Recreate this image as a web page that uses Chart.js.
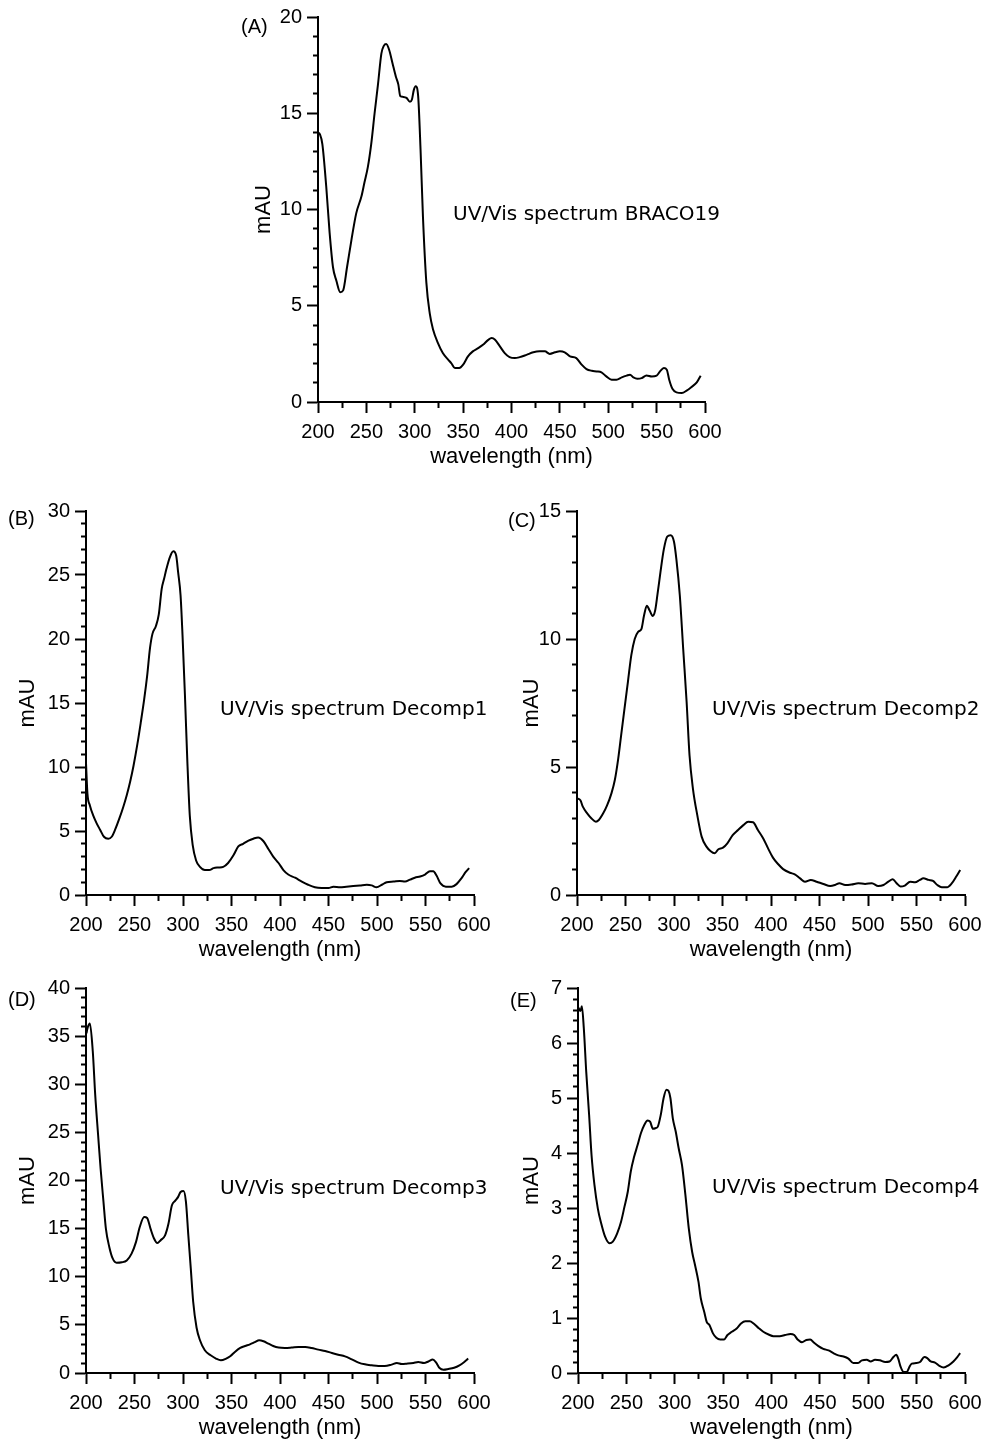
<!DOCTYPE html>
<html>
<head>
<meta charset="utf-8">
<script src="https://cdn.jsdelivr.net/npm/chart.js@4.4.1/dist/chart.umd.min.js"></script>
<style>
  body { margin: 0; width: 984px; height: 1441px; overflow: hidden; background: #fff; position: relative; }
  canvas { position: absolute; }
  .tag { position: absolute; font: 20px/24px "Liberation Sans", Arial, sans-serif; color: #000; }
  .note { position: absolute; font: 20px/24px "DejaVu Sans", sans-serif; color: #000; white-space: nowrap; }
</style>
</head>
<body>
<script>
// wavelength (nm) / absorbance (mAU)
var wlA = [200,202,204.5,208.5,212,215.5,219,223,226,230,234.5,239.5,245,248,251.5,255,258.5,262,265.5,268,270.5,273.5,277,280.5,283,285,288,291.5,295,297,299,301,303.5,306,308.5,312,315.5,319,324,329,334.5,338,341.5,346,350,355,360,365.5,370.5,376,379.5,383,388,393,398,403.5,408.5,415.5,422.5,429,434.5,439.5,445,450,455,460.5,467,472.5,477.5,483,488,493,498,503.5,508.5,514,519,522.5,526,530,534.5,539.5,545,550,553.5,557.5,560.5,563,566.5,570.5,576,581,586,591.5,595.5];
var mauA = [14.0,13.9,13.4,11.2,8.8,7.0,6.3,5.7,5.8,7.0,8.4,9.8,10.7,11.4,12.2,13.4,15.0,16.5,18.1,18.5,18.6,18.3,17.6,16.9,16.5,15.9,15.85,15.8,15.6,15.7,16.2,16.4,15.9,13.1,9.6,6.2,4.6,3.75,3.06,2.54,2.2,2.0,1.76,1.76,1.94,2.37,2.63,2.8,2.97,3.23,3.32,3.23,2.89,2.54,2.33,2.28,2.33,2.45,2.58,2.63,2.63,2.5,2.58,2.63,2.58,2.37,2.28,1.94,1.71,1.62,1.59,1.54,1.33,1.16,1.16,1.28,1.37,1.42,1.28,1.21,1.24,1.38,1.33,1.37,1.59,1.76,1.68,1.16,0.67,0.5,0.47,0.59,0.78,1.02,1.37];

var wlB = [200,201.5,204,207.5,211,214.5,218.5,223,226.5,230,234.5,238.5,242,245.5,249,253,256.5,260,263,266,268.5,272,275,278,280.5,283,286.5,290,293,295,297.5,299.5,302,304.5,307,310,313.5,317.5,322.5,327,331.5,336.5,341.5,346.5,352,357,362,367.5,372.5,377.5,383,388,393,398.5,403.5,408.5,415.5,422.5,429,436,443,450,455,462,468.5,475.5,482.5,489.5,494.5,499.5,505,510,517,523.5,529,534,539,544.5,549.5,554.5,558,561.5,565.5,571,577,582,587,591.5,595];
var mauB = [10.3,7.9,7.0,6.2,5.6,5.1,4.55,4.4,4.55,5.1,6.0,6.9,7.8,8.85,10.1,11.8,13.5,15.3,17.1,19.3,20.4,21.0,21.9,23.9,24.7,25.5,26.4,26.85,26.5,25.2,23.4,20.3,15.6,10.4,6.2,3.9,2.7,2.2,1.95,1.95,2.1,2.15,2.2,2.5,3.1,3.8,4.0,4.25,4.4,4.5,4.2,3.6,3.0,2.5,1.95,1.6,1.35,1.05,0.8,0.6,0.55,0.55,0.65,0.6,0.65,0.7,0.75,0.8,0.75,0.6,0.8,1.0,1.05,1.1,1.05,1.2,1.35,1.45,1.6,1.85,1.85,1.5,0.9,0.65,0.65,0.85,1.3,1.8,2.1];

var wlC = [200,203.5,206,210.5,215,219.5,222.5,227,231,235.5,239,242.5,245.5,249,252.5,256,259.5,263,266.5,269,272,275,278,280.5,283,286,289.5,293,296.5,300,302.5,306,309.5,313,316,319.5,324,328.5,333.5,337.5,342,345.5,350.5,355,360.5,366,371.5,376.5,381.5,386.5,392,397,402,407.5,412.5,419.5,424.5,430,435,441,447,454,461,466,470.5,476.5,483,490,497,504,510.5,516,521,525.5,529.5,533.5,538,543.5,548.5,553.5,557,562.5,567,571.5,576,581.5,586.5,591,595];
var mauC = [3.77,3.7,3.45,3.19,2.99,2.86,2.93,3.19,3.5,3.97,4.49,5.33,6.24,7.29,8.33,9.37,10.0,10.28,10.4,10.9,11.3,11.1,10.9,11.1,11.75,12.6,13.5,14.0,14.05,13.8,13.1,11.7,9.6,7.55,5.46,4.16,3.12,2.28,1.89,1.72,1.63,1.78,1.85,2.02,2.34,2.54,2.73,2.86,2.84,2.54,2.21,1.82,1.46,1.2,1.01,0.87,0.81,0.65,0.52,0.59,0.52,0.43,0.35,0.39,0.46,0.39,0.41,0.46,0.43,0.46,0.35,0.39,0.52,0.62,0.46,0.33,0.37,0.52,0.5,0.59,0.65,0.59,0.55,0.39,0.3,0.3,0.46,0.72,0.98];

var wlD = [200.5,201.5,204,207,209.5,212.5,215,218,220.5,224,227.5,231.5,237,242,247,251.5,255.5,260,263,266.5,270,273.5,277,281.5,285,288.5,292,295,297.5,300.5,303,305.5,308,310.5,314,317.5,322.5,328.5,334,339,344.5,349,353.5,359,364,369,374,378.5,383,388,393,398.5,405,412,419,426,432.5,439.5,446.5,453.5,460,467,474,481,487.5,494.5,501.5,508,515,520.5,525.5,530.5,537.5,542.5,548.5,553,557.5,561,564.5,568.5,573.5,579.5,585,590,594];
var mauD = [35.3,35.8,36.3,33.4,28.9,24.7,21.3,17.8,15.0,13.1,11.9,11.45,11.5,11.7,12.4,13.6,15.2,16.2,16.1,15.0,14.0,13.5,13.8,14.3,15.5,17.4,17.9,18.3,18.8,18.9,17.8,14.3,10.9,7.4,4.7,3.4,2.36,1.84,1.5,1.32,1.5,1.77,2.19,2.6,2.8,2.98,3.2,3.4,3.3,3.05,2.8,2.64,2.6,2.64,2.7,2.7,2.6,2.43,2.29,2.08,1.9,1.73,1.42,1.08,0.9,0.8,0.73,0.73,0.87,1.04,0.94,0.97,1.04,1.15,1.04,1.2,1.39,1.08,0.52,0.35,0.42,0.55,0.8,1.15,1.5];

var wlE = [200.5,202.5,204,206,208.5,211.5,214,217,220.5,224,228,232.5,236,240.5,244.5,248,251.5,254.5,258,261.5,265,268.5,272,274.5,277.5,280,282.5,285.5,288.5,291.5,293.5,295.5,298,301,304,307.5,311,314.5,318,321,324.5,327,330.5,333,336,339.5,343,347,351,354.5,359,364,368.5,373,377.5,381.5,386.5,391.5,397,402,408.5,414,419.5,423.5,427,431.5,436,440,444,448.5,453.5,459,464,469,474.5,479.5,484.5,489,493.5,498.5,502.5,507,512,517.5,522,526,529,531,533.5,536.5,540,542.5,545,549.5,553.5,558,561,564.5,569,573.5,578,583,588,592,595];
var mauE = [6.64,6.58,6.67,6.27,5.48,4.69,3.96,3.42,2.99,2.72,2.48,2.36,2.39,2.54,2.75,3.02,3.3,3.66,3.93,4.14,4.36,4.51,4.59,4.57,4.44,4.45,4.48,4.69,5.0,5.15,5.13,5.0,4.63,4.39,4.09,3.78,3.24,2.63,2.2,1.96,1.66,1.35,1.11,0.93,0.87,0.72,0.64,0.61,0.61,0.69,0.75,0.81,0.9,0.94,0.94,0.9,0.82,0.75,0.7,0.67,0.67,0.69,0.71,0.69,0.61,0.56,0.6,0.61,0.55,0.49,0.44,0.41,0.36,0.32,0.3,0.26,0.18,0.18,0.23,0.24,0.21,0.24,0.23,0.2,0.21,0.29,0.33,0.26,0.11,0.02,0.02,0.11,0.17,0.18,0.2,0.29,0.27,0.21,0.19,0.13,0.1,0.14,0.21,0.29,0.36];

// axis ranges: x [min, max, major, minor]; y [max, major, minor]
var xRange = [200, 600, 50, 25];
var yRangeA = [20, 5, 1];
var yRangeB = [30, 5, 1];
var yRangeC = [15, 5, 1];
var yRangeD = [40, 5, 1];
var yRangeE = [7, 1, 0.2];

var panels = [
  { tag: '(A)', note: 'UV/Vis spectrum BRACO19', wl: wlA, mau: mauA, yr: yRangeA,
    area: { l: 318, t: 17, r: 705, b: 402 }, yW: 67, tagPos: [241, 14], notePos: [453, 201] },
  { tag: '(B)', note: 'UV/Vis spectrum Decomp1', wl: wlB, mau: mauB, yr: yRangeB,
    area: { l: 86, t: 511, r: 474, b: 895 }, yW: 71, tagPos: [8, 506], notePos: [220, 696] },
  { tag: '(C)', note: 'UV/Vis spectrum Decomp2', wl: wlC, mau: mauC, yr: yRangeC,
    area: { l: 577, t: 511, r: 965, b: 895 }, yW: 58, tagPos: [508, 508], notePos: [712, 696] },
  { tag: '(D)', note: 'UV/Vis spectrum Decomp3', wl: wlD, mau: mauD, yr: yRangeD,
    area: { l: 86, t: 988, r: 474, b: 1373 }, yW: 71, tagPos: [8, 987], notePos: [220, 1175] },
  { tag: '(E)', note: 'UV/Vis spectrum Decomp4', wl: wlE, mau: mauE, yr: yRangeE,
    area: { l: 578, t: 988, r: 965, b: 1373 }, yW: 59, tagPos: [510, 988], notePos: [712, 1174] }
];

Chart.defaults.font.family = '"Liberation Sans", Arial, sans-serif';
Chart.defaults.color = '#000';

function tickList(min, max, step) {
  var out = [];
  var n = Math.round((max - min) / step);
  for (var i = 0; i <= n; i++) out.push({ value: +(min + i * step).toFixed(4) });
  return out;
}
function onMajor(v, min, major) {
  var r = (v - min) / major;
  return Math.abs(r - Math.round(r)) < 1e-6;
}

var padT = 17, padR = 24, xH = 68;

panels.forEach(function (p) {
  var w = (p.area.r - p.area.l) + p.yW + padR;
  var h = (p.area.b - p.area.t) + xH + padT;
  var cv = document.createElement('canvas');
  cv.width = w; cv.height = h;
  cv.style.width = w + 'px'; cv.style.height = h + 'px';
  cv.style.left = (p.area.l - p.yW) + 'px';
  cv.style.top = (p.area.t - padT) + 'px';
  document.body.appendChild(cv);

  var tg = document.createElement('div');
  tg.className = 'tag'; tg.textContent = p.tag;
  tg.style.left = p.tagPos[0] + 'px'; tg.style.top = p.tagPos[1] + 'px';
  document.body.appendChild(tg);

  var nt = document.createElement('div');
  nt.className = 'note'; nt.textContent = p.note;
  nt.style.left = p.notePos[0] + 'px'; nt.style.top = p.notePos[1] + 'px';
  document.body.appendChild(nt);

  var pts = p.wl.map(function (x, i) { return { x: x, y: p.mau[i] }; });
  var yMax = p.yr[0], yMajor = p.yr[1], yMinor = p.yr[2];

  new Chart(cv.getContext('2d'), {
    type: 'line',
    data: {
      datasets: [{
        data: pts,
        borderColor: '#000',
        borderWidth: 2,
        pointRadius: 0,
        fill: false,
        cubicInterpolationMode: 'monotone'
      }]
    },
    options: {
      responsive: false,
      animation: false,
      devicePixelRatio: 1,
      layout: { padding: { top: padT, right: padR, left: 0, bottom: 0 } },
      plugins: { legend: { display: false }, tooltip: { enabled: false } },
      scales: {
        x: {
          type: 'linear', min: xRange[0], max: xRange[1],
          afterBuildTicks: function (s) { s.ticks = tickList(xRange[0], xRange[1], xRange[3]); },
          afterFit: function (s) { s.height = xH; },
          ticks: {
            autoSkip: false, maxRotation: 0, minRotation: 0, padding: 7,
            font: { size: 20 }, color: '#000',
            callback: function (v) { return onMajor(v, xRange[0], xRange[2]) ? String(v) : ''; }
          },
          grid: {
            drawOnChartArea: false, tickLength: 11, tickWidth: 2, tickColor: '#000',
            tickBorderDash: function (c) {
              return c.tick && onMajor(c.tick.value, xRange[0], xRange[2]) ? [] : [5, 100];
            }
          },
          border: { display: true, color: '#000', width: 2 },
          title: { display: true, text: 'wavelength (nm)', font: { size: 22 }, color: '#000', padding: 0 }
        },
        y: {
          type: 'linear', min: 0, max: yMax,
          afterBuildTicks: function (s) { s.ticks = tickList(0, yMax, yMinor); },
          afterFit: function (s) { s.width = p.yW; },
          ticks: {
            autoSkip: false, padding: 5, font: { size: 20 }, color: '#000',
            callback: function (v) { return onMajor(v, 0, yMajor) ? String(v) : ''; }
          },
          grid: {
            drawOnChartArea: false, tickLength: 11, tickWidth: 2, tickColor: '#000',
            tickBorderDash: function (c) {
              return c.tick && onMajor(c.tick.value, 0, yMajor) ? [] : [0, 6, 5, 100];
            }
          },
          border: { display: true, color: '#000', width: 2 },
          title: { display: true, text: 'mAU', font: { size: 22 }, color: '#000', padding: 0 }
        }
      }
    }
  });
});
</script>
</body>
</html>
